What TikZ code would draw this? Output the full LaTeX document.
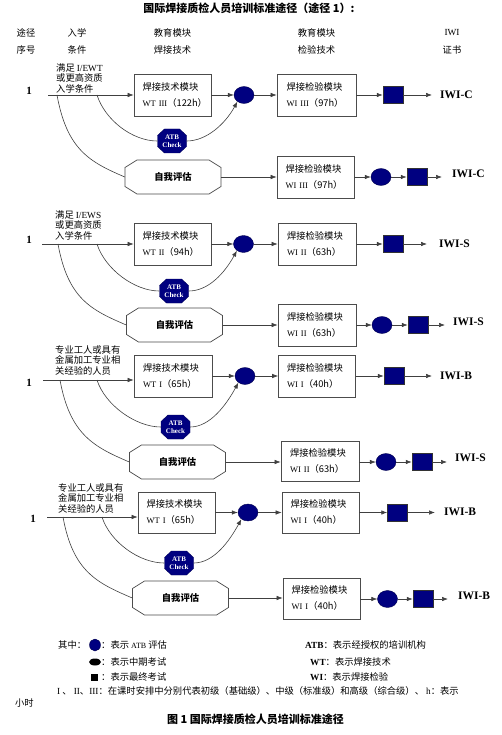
\documentclass[tikz,border=0pt]{standalone}
\usepackage{fontspec}
\setmainfont{Liberation Serif}
\newfontfamily\cjk{Noto Sans CJK SC}
\usetikzlibrary{arrows.meta,calc,shapes.geometric}
\definecolor{mynavy}{RGB}{0,0,128}
\newcommand\cj[1]{{\cjk #1}}
\newcommand\lat[1]{{\fontsize{8.5}{16}\selectfont #1}}
\newcommand\hrs[2]{\mbox{\lat{#1}\cj{（#2）}}}
\tikzset{
 conn/.style={line width=0.6pt, draw=black!75},
 conarr/.style={conn, -{Latex[length=6pt,width=4.5pt]}},
 modbox/.style={draw=black!70, line width=0.7pt, fill=white, minimum width=77pt, minimum height=42pt, text width=60pt, align=left, inner sep=0pt, font=\fontsize{9.3}{16}\selectfont},
 evaldot/.style={ellipse, fill=mynavy, draw=mynavy!60!black, line width=0.4pt, minimum width=20pt, minimum height=17pt, inner sep=0pt},
 finsq/.style={rectangle, fill=mynavy, draw=black!80, line width=0.5pt, minimum width=20pt, minimum height=17pt, inner sep=0pt},
 cert/.style={anchor=west, inner sep=0pt, font=\fontsize{11.5}{12}\selectfont\bfseries},
 condtxt/.style={anchor=north west, align=left, inner sep=0pt, font=\cjk\fontsize{9.3}{10.5}\selectfont},
 pathnum/.style={inner sep=0pt, font=\fontsize{11}{11}\selectfont\bfseries},
 hdr/.style={inner sep=0pt, font=\cjk\fontsize{9.3}{10}\selectfont},
 atbt/.style={minimum width=29pt, minimum height=24pt, inner sep=0pt, align=center, text=white, font=\fontsize{7}{8}\selectfont\bfseries},
 sat/.style={minimum width=96pt, minimum height=34pt, inner sep=0pt, font=\cjk\bfseries\fontsize{9.3}{10}\selectfont},
 lg/.style={anchor=west, inner sep=0pt, font=\cjk\fontsize{9.3}{10}\selectfont},
 bigt/.style={inner sep=0pt, font=\cjk\bfseries\fontsize{11}{12}\selectfont},
}
\newcommand\atbnode[3]{%
 \filldraw[fill=mynavy, draw=mynavy!70!black, line width=0.4pt, shift={(#2,#3)}] (-14.5,-5.5) -- (-7.5,-12) -- (7.5,-12) -- (14.5,-5.5) -- (14.5,5.5) -- (7.5,12) -- (-7.5,12) -- (-14.5,5.5) -- cycle;
 \node[atbt] (#1) at (#2,#3) {ATB\\Check};
}
\newcommand\sanode[3]{%
 \draw[fill=white, draw=black!70, line width=0.7pt, shift={(#2,#3)}] (-48,-9.5) -- (-36,-17) -- (36,-17) -- (48,-9.5) -- (48,9.5) -- (36,17) -- (-36,17) -- (-48,9.5) -- cycle;
 \node[sat] (#1) at (#2,#3) {自我评估};
}
\begin{document}
\begin{tikzpicture}[x=1pt,y=-1pt]
\useasboundingbox (0,0) rectangle (501,735);
\fill[white] (0,0) rectangle (501,735);
% title and header
\node[bigt] (ttl) at (249,8) {国际焊接质检人员培训标准途径（途径 1）:};
\node[hdr] (h11) at (26,33) {途径};
\node[hdr] (h12) at (77,33) {入学};
\node[hdr] (h13) at (172.5,33) {教育模块};
\node[hdr] (h14) at (316.5,33) {教育模块};
\node[hdr, font=\fontsize{9.3}{10}\selectfont] (h15) at (452,33) {IWI};
\node[hdr] (h21) at (26,50) {序号};
\node[hdr] (h22) at (77,50) {条件};
\node[hdr] (h23) at (172.5,50) {焊接技术};
\node[hdr] (h24) at (316.5,50) {检验技术};
\node[hdr] (h25) at (452,50) {证书};

% ---------- block 1
\node[pathnum] (n1) at (29,91) {1};
\node[condtxt] (k1) at (56,63.3) {满足 {\rmfamily I/EWT}\\或更高资质\\入学条件};
\coordinate (s1) at (48,95);
\coordinate (p1) at (57,95);
\coordinate (q1) at (97,95);
\node[modbox] (a1) at (172.5,95) {\cj{焊接技术模块}\\\hrs{WT III}{122h}};
\node[evaldot] (c1) at (244,95) {};
\node[modbox, minimum width=79pt] (b1) at (316.5,95) {\cj{焊接检验模块}\\\hrs{WI III}{97h}};
\node[finsq] (f1) at (393,95) {};
\coordinate (e1) at (432,95);
\node[cert] (l1) at (440,95) {IWI-C};
\draw[conarr] (s1) -- (s1 -| a1.west);
\draw[conarr] (a1) -- (c1);
\draw[conarr] (c1) -- (b1);
\draw[conarr] (b1) -- (f1);
\draw[conarr] (f1) -- (e1);
\atbnode{t1}{172}{141}
\sanode{g1}{173}{177}
\draw[conn] (q1) .. controls +(8,25) and +(-25,0) .. (t1.west);
\draw[conarr] (t1.east) .. controls +(20,0) and +(-12,22) .. (c1.225);
\draw[conn] (p1) .. controls +(10,55) and +(-35,-15) .. (g1.west);
\node[modbox] (d1) at (315.5,177) {\cj{焊接检验模块}\\\hrs{WI III}{97h}};
\node[evaldot] (hh1) at (381,177) {};
\node[finsq] (r1) at (417,177) {};
\coordinate (x1) at (442,177);
\node[cert] (m1) at (452,174) {IWI-C};
\draw[conarr] (g1) -- (d1);
\draw[conarr] (d1) -- (hh1);
\draw[conarr] (hh1) -- (r1);
\draw[conarr] (r1) -- (x1);

% ---------- block 2
\node[pathnum] (n2) at (29,240) {1};
\node[condtxt] (k2) at (55,210.3) {满足 {\rmfamily I/EWS}\\或更高资质\\入学条件};
\coordinate (s2) at (42,244);
\coordinate (p2) at (58,244);
\coordinate (q2) at (97,244);
\node[modbox] (a2) at (172.5,244) {\cj{焊接技术模块}\\\hrs{WT II}{94h}};
\node[evaldot] (c2) at (243.5,244) {};
\node[modbox, minimum width=78pt] (b2) at (317,244) {\cj{焊接检验模块}\\\hrs{WI II}{63h}};
\node[finsq] (f2) at (393,244) {};
\coordinate (e2) at (427,244);
\node[cert] (l2) at (439,244) {IWI-S};
\draw[conarr] (s2) -- (s2 -| a2.west);
\draw[conarr] (a2) -- (c2);
\draw[conarr] (c2) -- (b2);
\draw[conarr] (b2) -- (f2);
\draw[conarr] (f2) -- (e2);
\atbnode{t2}{174}{291}
\sanode{g2}{174.5}{325}
\draw[conn] (q2) .. controls +(8,25) and +(-25,0) .. (t2.west);
\draw[conarr] (t2.east) .. controls +(20,0) and +(-12,22) .. (c2.225);
\draw[conn] (p2) .. controls +(10,55) and +(-35,-15) .. (g2.west);
\node[modbox, minimum width=78pt] (d2) at (317,325) {\cj{焊接检验模块}\\\hrs{WI II}{63h}};
\node[evaldot] (hh2) at (382,325) {};
\node[finsq] (r2) at (418,325) {};
\coordinate (x2) at (445,325);
\node[cert] (m2) at (453,322) {IWI-S};
\draw[conarr] (g2) -- (d2);
\draw[conarr] (d2) -- (hh2);
\draw[conarr] (hh2) -- (r2);
\draw[conarr] (r2) -- (x2);

% ---------- block 3
\node[pathnum] (n3) at (29,383) {1};
\node[condtxt] (k3) at (55,345.3) {专业工人或具有\\金属加工专业相\\关经验的人员};
\coordinate (s3) at (43,380);
\coordinate (p3) at (60,380);
\coordinate (q3) at (97,380);
\node[modbox, minimum width=78pt] (a3) at (173,376) {\cj{焊接技术模块}\\\hrs{WT I}{65h}};
\node[evaldot] (c3) at (245,376) {};
\node[modbox] (b3) at (317,376) {\cj{焊接检验模块}\\\hrs{WI I}{40h}};
\node[finsq] (f3) at (394,376) {};
\coordinate (e3) at (432,376);
\node[cert] (l3) at (440,376) {IWI-B};
\draw[conarr] (s3) -- (s3 -| a3.west);
\draw[conarr] (a3) -- (c3);
\draw[conarr] (c3) -- (b3);
\draw[conarr] (b3) -- (f3);
\draw[conarr] (f3) -- (e3);
\atbnode{t3}{175.5}{427}
\sanode{g3}{177.5}{462}
\draw[conn] (q3) .. controls +(8,25) and +(-25,0) .. (t3.west);
\draw[conarr] (t3.east) .. controls +(20,0) and +(-12,22) .. (c3.225);
\draw[conn] (p3) .. controls +(10,55) and +(-35,-15) .. (g3.west);
\node[modbox, minimum width=78pt, minimum height=40pt] (d3) at (320,461) {\cj{焊接检验模块}\\\hrs{WI II}{63h}};
\node[evaldot] (hh3) at (386,462) {};
\node[finsq] (r3) at (422,462) {};
\coordinate (x3) at (447,462);
\node[cert] (m3) at (455,458) {IWI-S};
\draw[conarr] (g3) -- (g3 -| d3.west);
\draw[conarr] (hh3 -| d3.east) -- (hh3);
\draw[conarr] (hh3) -- (r3);
\draw[conarr] (r3) -- (x3);

% ---------- block 4
\node[pathnum] (n4) at (33,519) {1};
\node[condtxt] (k4) at (58,483.3) {专业工人或具有\\金属加工专业相\\关经验的人员};
\coordinate (s4) at (47,517);
\coordinate (p4) at (63,517);
\coordinate (q4) at (102,517);
\node[modbox, minimum height=41pt] (a4) at (176.5,512.5) {\cj{焊接技术模块}\\\hrs{WT I}{65h}};
\node[evaldot] (c4) at (248,512.5) {};
\node[modbox, minimum height=41pt] (b4) at (320.5,512.5) {\cj{焊接检验模块}\\\hrs{WI I}{40h}};
\node[finsq] (f4) at (397.5,512.5) {};
\coordinate (e4) at (435,512.5);
\node[cert] (l4) at (444,512) {IWI-B};
\draw[conarr] (s4) -- (s4 -| a4.west);
\draw[conarr] (a4) -- (c4);
\draw[conarr] (c4) -- (b4);
\draw[conarr] (b4) -- (f4);
\draw[conarr] (f4) -- (e4);
\atbnode{t4}{179}{563}
\sanode{g4}{180.5}{598}
\draw[conn] (q4) .. controls +(8,25) and +(-25,0) .. (t4.west);
\draw[conarr] (t4.east) .. controls +(20,0) and +(-12,22) .. (c4.225);
\draw[conn] (p4) .. controls +(10,55) and +(-35,-15) .. (g4.west);
\node[modbox, minimum height=41pt] (d4) at (321.5,598.5) {\cj{焊接检验模块}\\\hrs{WI I}{40h}};
\node[evaldot] (hh4) at (387.5,599) {};
\node[finsq] (r4) at (423,599) {};
\coordinate (x4) at (448,599);
\node[cert] (m4) at (458,596) {IWI-B};
\draw[conarr] (g4) -- (g4 -| d4.west);
\draw[conarr] (hh4 -| d4.east) -- (hh4);
\draw[conarr] (hh4) -- (r4);
\draw[conarr] (r4) -- (x4);

% ---------- legend
\node[lg] (lq) at (58,645) {其中：};
\node[evaldot, minimum width=11pt, minimum height=12pt] (ld1) at (95,645) {};
\node[lg] (lt1) at (101,645) {：表示 {\rmfamily\fontsize{8}{9}\selectfont ATB} 评估};
\node[ellipse, fill=black, minimum width=12pt, minimum height=7pt, inner sep=0pt] (ld2) at (95,662) {};
\node[lg] (lt2) at (101,662) {：表示中期考试};
\node[rectangle, fill=black, minimum size=7pt, inner sep=0pt] (ld3) at (94.5,677) {};
\node[lg] (lt3) at (101,677) {：表示最终考试};
\node[lg] (lr1) at (305,645) {{\rmfamily\bfseries ATB}：表示经授权的培训机构};
\node[lg] (lr2) at (310,662) {{\rmfamily\bfseries WT}：表示焊接技术};
\node[lg] (lr3) at (310,677) {{\rmfamily\bfseries WI}：表示焊接检验};
\node[lg] (lr4) at (57,691) {{\rmfamily I} 、 {\rmfamily II}、{\rmfamily III}：在课时安排中分别代表初级（基础级）、中级（标准级）和高级（综合级）、 {\rmfamily h}：表示};
\node[lg] (lr5) at (15,703) {小时};
\node[bigt] (cap) at (255.5,719) {图 1 国际焊接质检人员培训标准途径};
\end{tikzpicture}
\end{document}
